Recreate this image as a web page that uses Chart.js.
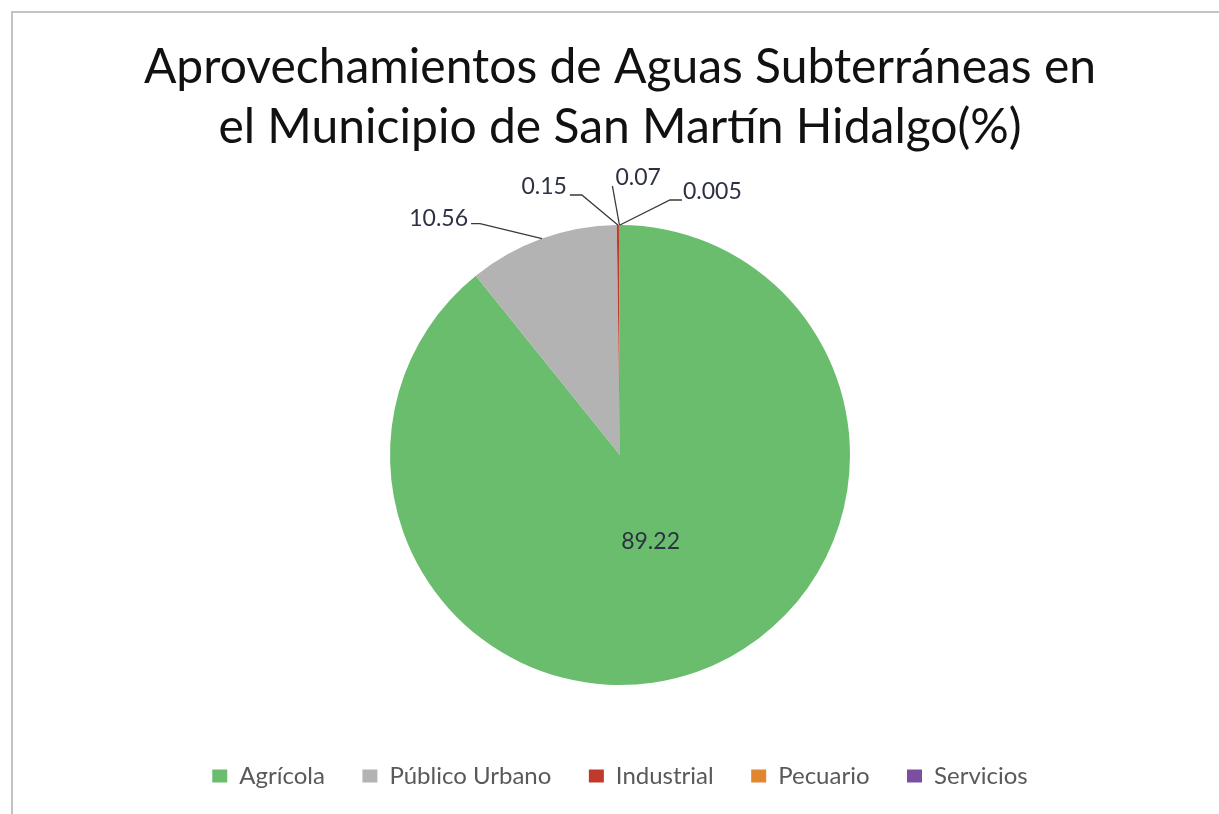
<!DOCTYPE html>
<html>
<head>
<meta charset="utf-8">
<script src="https://cdn.jsdelivr.net/npm/chart.js@4.4.0/dist/chart.umd.min.js"></script>
<style>
  html, body { margin: 0; padding: 0; background: #fff; overflow: hidden; }
  #wrap { position: relative; width: 1219px; height: 814px; }
  #frame { position: absolute; left: 11px; top: 11px; width: 1300px; height: 900px; border: 2px solid #c3c3c3; box-sizing: border-box; }
  canvas { position: absolute; left: 0; top: 0; }
</style>
</head>
<body>
<div id="wrap">
  <div id="frame"></div>
  <canvas id="chart" width="1219" height="814"></canvas>
</div>
<script>
const categories = ['Agrícola', 'Público Urbano', 'Industrial', 'Pecuario', 'Servicios'];
const values = [89.22, 10.56, 0.15, 0.07, 0.005];
const valueLabels = ['89.22', '10.56', '0.15', '0.07', '0.005'];
const colors = ['#6bbd6e', '#b3b3b3', '#c0392b', '#e0862e', '#7b4ea1'];
const titleLines = ['Aprovechamientos de Aguas Subterráneas en', 'el Municipio de San Martín Hidalgo(%)'];

const FONT = 'Lato, "Open Sans", sans-serif';

// leader line layout for outside labels: elbow offset from arc edge, tail, text side
const leaders = [
  null,
  { elbow: [-62, -15], tail: -9, text: [-3, -5], align: 'right' },
  { elbow: [-36, -30], tail: -12, text: [-3, -8], align: 'right' },
  { elbow: [-7, -39], tail: 0, text: [3, -8], align: 'left' },
  { elbow: [50, -25], tail: 12, text: [1, -8], align: 'left' },
];

const valueLabelPlugin = {
  id: 'valueLabels',
  afterDatasetsDraw(chart) {
    const ctx = chart.ctx;
    const arcs = chart.getDatasetMeta(0).data;
    ctx.save();
    ctx.font = '23px ' + FONT;
    ctx.fillStyle = '#2e3142';
    ctx.strokeStyle = '#3a3a3a';
    ctx.lineWidth = 1.3;
    ctx.textBaseline = 'middle';
    arcs.forEach((arc, i) => {
      const { x, y, startAngle, endAngle, outerRadius } = arc.getProps(['x', 'y', 'startAngle', 'endAngle', 'outerRadius'], true);
      const mid = (startAngle + endAngle) / 2;
      const lay = leaders[i];
      if (!lay) {
        const r = outerRadius * 0.4;
        ctx.textAlign = 'center';
        ctx.fillText(valueLabels[i], x + Math.cos(mid) * r, y + Math.sin(mid) * r);
        return;
      }
      const ax = x + Math.cos(mid) * outerRadius;
      const ay = y + Math.sin(mid) * outerRadius;
      const ex = ax + lay.elbow[0];
      const ey = ay + lay.elbow[1];
      const tx = ex + lay.tail;
      ctx.beginPath();
      ctx.moveTo(ax, ay);
      ctx.lineTo(ex, ey);
      ctx.lineTo(tx, ey);
      ctx.stroke();
      ctx.textAlign = lay.align;
      ctx.fillText(valueLabels[i], tx + lay.text[0], ey + lay.text[1]);
    });
    ctx.restore();
  }
};

new Chart(document.getElementById('chart'), {
  type: 'pie',
  data: {
    labels: categories,
    datasets: [{
      data: values,
      backgroundColor: colors,
      borderWidth: 0,
    }],
  },
  options: {
    responsive: false,
    animation: false,
    layout: { padding: { left: 21, right: 0, top: 0, bottom: 16 } },
    plugins: {
      title: {
        display: true,
        text: titleLines,
        color: '#111',
        font: { family: FONT, size: 48, weight: 'normal', lineHeight: 1.25 },
        padding: { top: 38, bottom: 67 },
      },
      legend: {
        position: 'bottom',
        title: { display: true, text: '', font: { size: 12 }, padding: { top: 27.1, bottom: 0 } },
        labels: {
          boxWidth: 15,
          boxHeight: 13,
          padding: 37.5,
          color: '#595959',
          font: { family: FONT, size: 24 },
        },
      },
      tooltip: { enabled: false },
    },
  },
  plugins: [valueLabelPlugin],
});
</script>
</body>
</html>
